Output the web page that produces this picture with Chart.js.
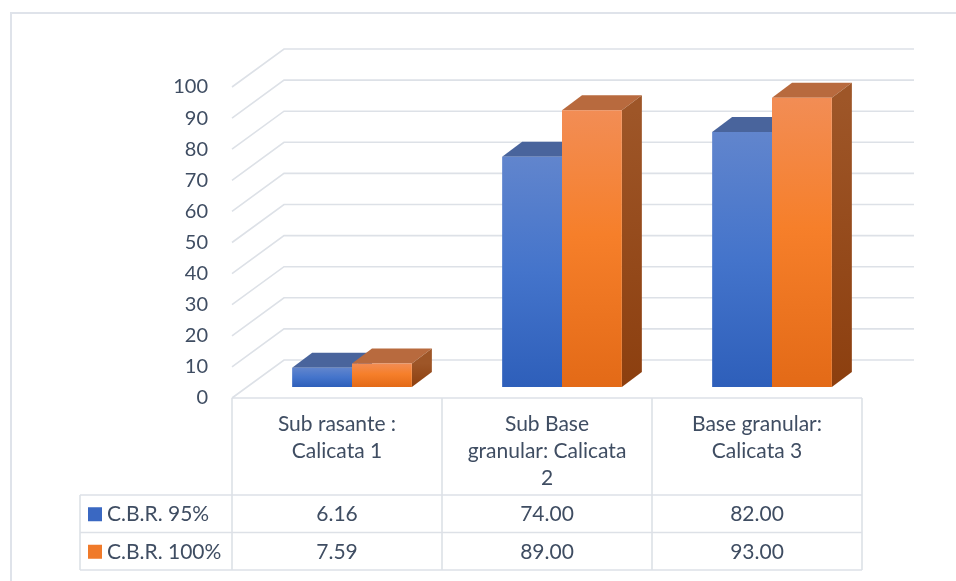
<!DOCTYPE html>
<html>
<head>
<meta charset="utf-8">
<script src="https://cdn.jsdelivr.net/npm/chart.js@4.4.1/dist/chart.umd.min.js"></script>
<style>
  html, body { margin: 0; padding: 0; background: #fff; }
  #wrap { width: 956px; height: 581px; }
</style>
</head>
<body>
<div id="wrap"><canvas id="chart" width="956" height="581"></canvas></div>
<script>
// CBR results per pit
const categories = [
  ['Sub rasante :', 'Calicata 1'],
  ['Sub Base', 'granular: Calicata', '2'],
  ['Base granular:', 'Calicata 3']
];
const seriesNames = ['C.B.R. 95%', 'C.B.R. 100%'];
const cbr95 = [6.16, 74.00, 82.00];
const cbr100 = [7.59, 89.00, 93.00];
const yMin = 0, yMax = 100, yStep = 10;

const FONT = 'Lato, "Open Sans", sans-serif';
const TEXT = '#3f4d62';
const GRID = '#dde1e7';

// depth offsets for the fake 3d look
const WALL = { x: 52, y: -38 };   // front edge -> back wall
const SHIFT = { x: 15, y: -11 };  // front edge -> front face of the bars
const THICK = { x: 20, y: -15 };  // bar thickness

const HEAD_H = 97;   // header row of the table
const ROW_H = 37.5;  // one row per series
const TABLE_LEFT = 80;

const palette = [
  { face: [[0, '#6185cd'], [0.5, '#4474cb'], [1, '#2e5fba']], top: '#49649c', side: ['#3d5a96', '#2b4a88'], swatch: '#3a68c2' },
  { face: [[0, '#f28d55'], [0.45, '#f67f2a'], [1, '#e36a17']], top: '#b86a3e', side: ['#9e5628', '#8c3f0f'], swatch: '#f07a2a' }
];

function faceGradient(stops) {
  return (c) => {
    const chart = c.chart;
    if (!chart.chartArea || c.raw == null) return stops[1][1];
    const y = chart.scales.y;
    const top = y.getPixelForValue(c.raw);
    const bot = y.getPixelForValue(0);
    const g = chart.ctx.createLinearGradient(0, top, 0, bot);
    stops.forEach(s => g.addColorStop(s[0], s[1]));
    return g;
  };
}

function poly(ctx, pts, fill) {
  ctx.beginPath();
  ctx.moveTo(pts[0][0], pts[0][1]);
  for (let i = 1; i < pts.length; i++) ctx.lineTo(pts[i][0], pts[i][1]);
  ctx.closePath();
  ctx.fillStyle = fill;
  ctx.fill();
}

const threeD = {
  id: 'threeD',
  beforeDatasetsDraw(chart) {
    const { ctx, chartArea: a, scales: { y } } = chart;

    // back wall grid with the diagonal left wall lines
    ctx.save();
    ctx.strokeStyle = GRID;
    ctx.lineWidth = 1.6;
    y.ticks.forEach(t => {
      const py = y.getPixelForValue(t.value);
      ctx.beginPath();
      ctx.moveTo(a.left, py);
      ctx.lineTo(a.left + WALL.x, py + WALL.y);
      ctx.lineTo(a.right + WALL.x, py + WALL.y);
      ctx.stroke();
    });
    ctx.restore();

    // bars sit a bit behind the front edge; the library paints the front faces
    ctx.save();
    ctx.translate(SHIFT.x, SHIFT.y);
    for (let i = 0; i < categories.length; i++) {
      chart.data.datasets.forEach((ds, d) => {
        const bar = chart.getDatasetMeta(d).data[i];
        const l = bar.x - bar.width / 2, r = bar.x + bar.width / 2;
        const t = bar.y, b = bar.base;
        const col = palette[d];
        poly(ctx, [[l, t], [l + THICK.x, t + THICK.y], [r + THICK.x, t + THICK.y], [r, t]], col.top);
        const g = ctx.createLinearGradient(0, t, 0, b);
        g.addColorStop(0, col.side[0]);
        g.addColorStop(1, col.side[1]);
        poly(ctx, [[r, t], [r + THICK.x, t + THICK.y], [r + THICK.x, b + THICK.y], [r, b]], g);
      });
    }
  },
  afterDatasetsDraw(chart) {
    chart.ctx.restore();
  }
};

const dataTable = {
  id: 'dataTable',
  afterDraw(chart) {
    const { ctx, chartArea: a } = chart;
    const band = (a.right - a.left) / categories.length;
    const headBottom = a.bottom + HEAD_H;
    const rows = [cbr95, cbr100];
    const tableBottom = headBottom + ROW_H * rows.length;

    ctx.save();
    // outer frame of the chart (only top and left fall inside the view)
    ctx.strokeStyle = '#dfe3ea';
    ctx.lineWidth = 2;
    ctx.beginPath();
    ctx.moveTo(11, chart.height);
    ctx.lineTo(11, 13);
    ctx.lineTo(chart.width, 13);
    ctx.stroke();

    // grid of the table
    ctx.strokeStyle = GRID;
    ctx.lineWidth = 1.6;
    ctx.beginPath();
    ctx.moveTo(a.left, a.bottom);
    ctx.lineTo(a.right, a.bottom);
    for (let r = 0; r <= rows.length; r++) {
      const py = headBottom + r * ROW_H;
      ctx.moveTo(TABLE_LEFT, py);
      ctx.lineTo(a.right, py);
    }
    for (let c = 0; c <= categories.length; c++) {
      const px = a.left + c * band;
      ctx.moveTo(px, a.bottom);
      ctx.lineTo(px, tableBottom);
    }
    ctx.moveTo(TABLE_LEFT, headBottom);
    ctx.lineTo(TABLE_LEFT, tableBottom);
    ctx.stroke();

    ctx.fillStyle = TEXT;
    ctx.font = '21px ' + FONT;
    ctx.textBaseline = 'middle';

    // category headers
    ctx.textAlign = 'center';
    categories.forEach((lines, i) => {
      const cx = a.left + (i + 0.5) * band;
      lines.forEach((txt, k) => ctx.fillText(txt, cx, a.bottom + 26 + k * 27));
    });

    // values, one row per series
    rows.forEach((vals, r) => {
      const cy = headBottom + (r + 0.5) * ROW_H + 0.5;
      ctx.textAlign = 'center';
      ctx.fillStyle = TEXT;
      vals.forEach((v, i) => ctx.fillText(v.toFixed(2), a.left + (i + 0.5) * band, cy));
      ctx.fillStyle = palette[r].swatch;
      ctx.fillRect(88, cy - 7, 14, 14);
      ctx.fillStyle = TEXT;
      ctx.textAlign = 'left';
      ctx.fillText(seriesNames[r], 107, cy);
    });
    ctx.restore();
  }
};

new Chart(document.getElementById('chart'), {
  type: 'bar',
  data: {
    labels: categories,
    datasets: [
      { label: seriesNames[0], data: cbr95, backgroundColor: faceGradient(palette[0].face) },
      { label: seriesNames[1], data: cbr100, backgroundColor: faceGradient(palette[1].face) }
    ]
  },
  options: {
    responsive: false,
    animation: false,
    events: [],
    layout: { padding: { top: 87, right: 94, bottom: 183, left: 0 } },
    datasets: { bar: { categoryPercentage: 0.57, barPercentage: 1, borderWidth: 0, clip: false } },
    plugins: { legend: { display: false }, tooltip: { enabled: false } },
    scales: {
      x: { display: false },
      y: {
        min: yMin,
        max: yMax,
        afterFit(scale) { scale.width = 232; },
        grid: { display: false, drawTicks: false },
        border: { display: false },
        ticks: { stepSize: yStep, padding: 24, color: TEXT, font: { family: FONT, size: 20 } }
      }
    }
  },
  plugins: [threeD, dataTable]
});
</script>
</body>
</html>
